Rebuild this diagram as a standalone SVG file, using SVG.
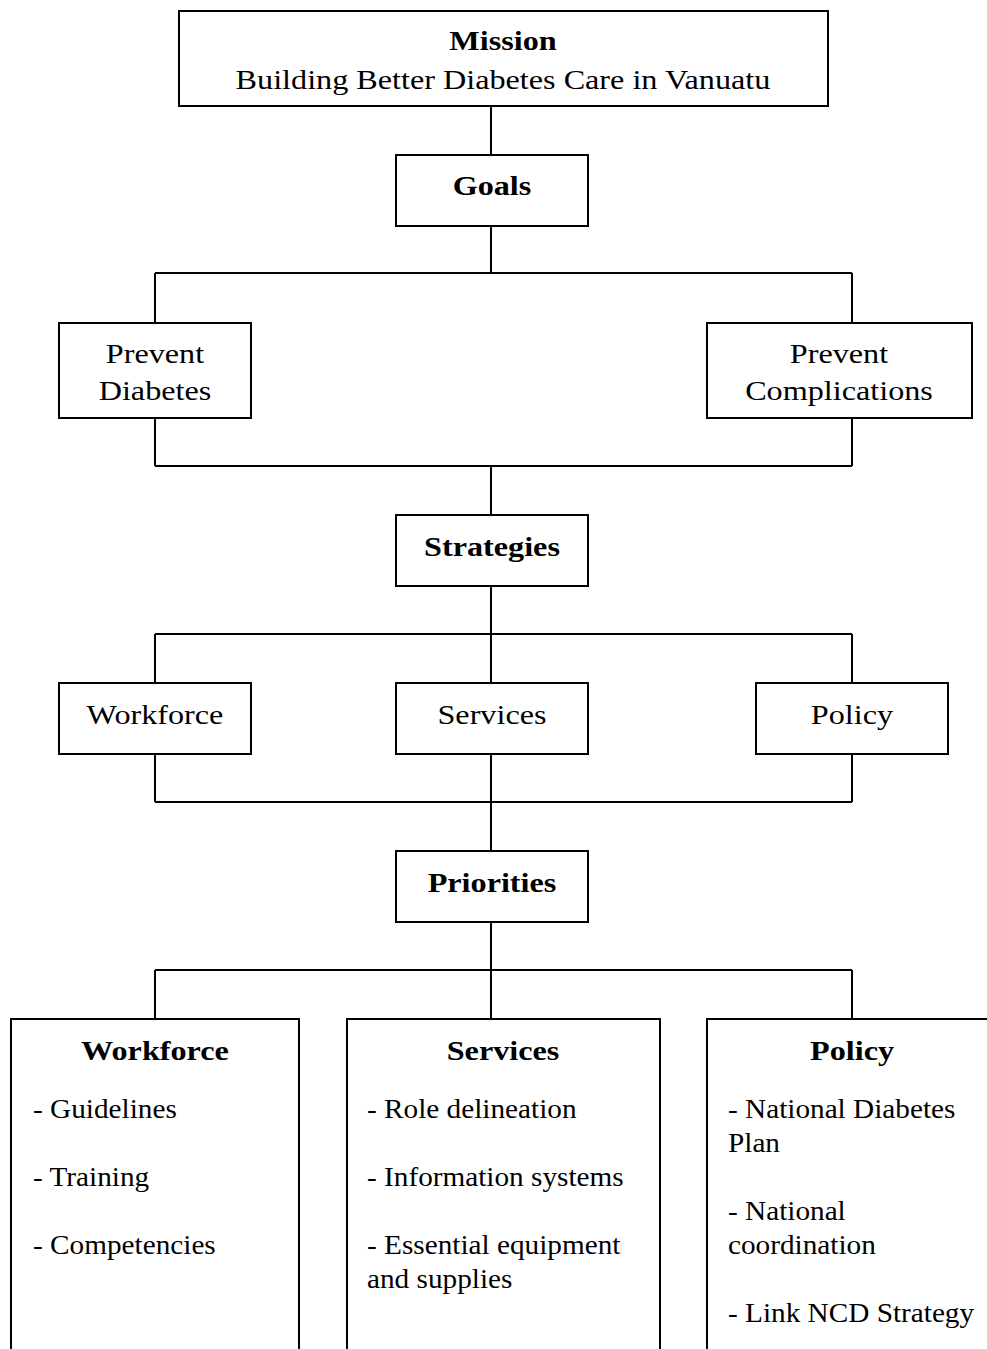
<svg xmlns="http://www.w3.org/2000/svg" width="987" height="1349" viewBox="0 0 987 1349">
<style>
.box{fill:#fff;stroke:#000;stroke-width:2}
.ln{fill:none;stroke:#000;stroke-width:2}
text{font-family:"Liberation Serif","Times New Roman",serif;font-size:28px;fill:#000}
.b{font-weight:bold}
.c{text-anchor:middle;transform:scaleX(1.15);transform-box:fill-box;transform-origin:center}
.l{transform:scaleX(1.045);transform-box:fill-box;transform-origin:left}
</style>
<rect width="987" height="1349" fill="#fff"/>
<g id="connectors">
<path class="ln" d="M491 106V155M491 226V273M155 273H852M155 273V323M852 273V323"/>
<path class="ln" d="M155 418V466M852 418V466M155 466H852M491 466V515"/>
<path class="ln" d="M491 586V634M155 634H852M155 634V683M491 634V683M852 634V683"/>
<path class="ln" d="M155 754V802M491 754V802M852 754V802M155 802H852M491 802V851"/>
<path class="ln" d="M491 922V970M155 970H852M155 970V1019M491 970V1019M852 970V1019"/>
</g>
<g id="mission"><rect class="box" x="179" y="11" width="649" height="95"/>
<text class="c b" x="503" y="50">Mission</text>
<text class="c" x="503" y="89">Building Better Diabetes Care in Vanuatu</text></g>
<g id="goals"><rect class="box" x="396" y="155" width="192" height="71"/>
<text class="c b" x="492" y="195">Goals</text></g>
<g id="prevent-diabetes"><rect class="box" x="59" y="323" width="192" height="95"/>
<text class="c" x="155" y="363">Prevent</text><text class="c" x="155" y="400">Diabetes</text></g>
<g id="prevent-complications"><rect class="box" x="707" y="323" width="265" height="95"/>
<text class="c" x="839" y="363">Prevent</text><text class="c" x="839" y="400">Complications</text></g>
<g id="strategies"><rect class="box" x="396" y="515" width="192" height="71"/>
<text class="c b" x="492" y="556">Strategies</text></g>
<g id="workforce"><rect class="box" x="59" y="683" width="192" height="71"/>
<text class="c" x="155" y="724">Workforce</text></g>
<g id="services"><rect class="box" x="396" y="683" width="192" height="71"/>
<text class="c" x="492" y="724">Services</text></g>
<g id="policy"><rect class="box" x="756" y="683" width="192" height="71"/>
<text class="c" x="852" y="724">Policy</text></g>
<g id="priorities"><rect class="box" x="396" y="851" width="192" height="71"/>
<text class="c b" x="492" y="892">Priorities</text></g>
<g id="p-workforce"><rect class="box" x="11" y="1019" width="288" height="360"/>
<text class="c b" x="155" y="1060">Workforce</text>
<text class="l" x="33" y="1118">- Guidelines</text>
<text class="l" x="33" y="1186">- Training</text>
<text class="l" x="33" y="1254">- Competencies</text></g>
<g id="p-services"><rect class="box" x="347" y="1019" width="313" height="360"/>
<text class="c b" x="503" y="1060">Services</text>
<text class="l" x="367" y="1118">- Role delineation</text>
<text class="l" x="367" y="1186">- Information systems</text>
<text class="l" x="367" y="1254">- Essential equipment</text>
<text class="l" x="367" y="1288">and supplies</text></g>
<g id="p-policy"><rect class="box" x="707" y="1019" width="290" height="360"/>
<text class="c b" x="852" y="1060">Policy</text>
<text class="l" x="728" y="1118">- National Diabetes</text>
<text class="l" x="728" y="1152">Plan</text>
<text class="l" x="728" y="1220">- National</text>
<text class="l" x="728" y="1254">coordination</text>
<text class="l" x="728" y="1322">- Link NCD Strategy</text></g>
</svg>
